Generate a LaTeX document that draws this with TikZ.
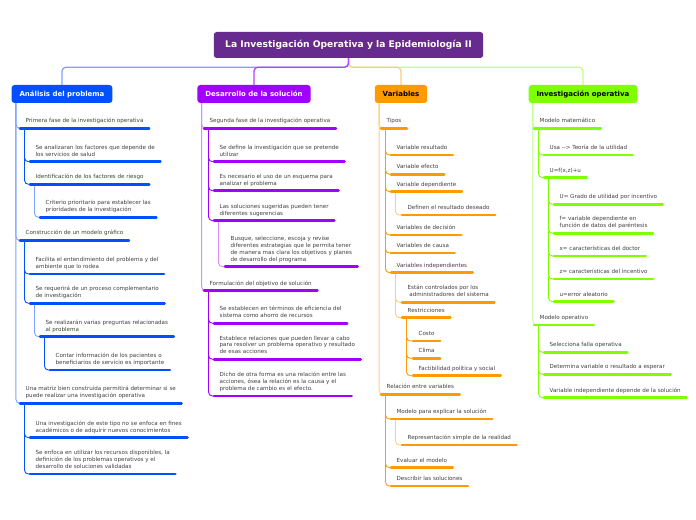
\documentclass[tikz,border=0pt]{standalone}
\usepackage{fontspec}
\setmainfont{DejaVu Sans}
\usetikzlibrary{backgrounds}
\definecolor{ctitle}{HTML}{672A8E}
\definecolor{cblue}{HTML}{0050FF}
\definecolor{cpur}{HTML}{A100FF}
\definecolor{corg}{HTML}{FF9A00}
\definecolor{clime}{HTML}{80FF00}
\definecolor{cbluel}{HTML}{7FA3FF}
\definecolor{cpurl}{HTML}{D48EFF}
\definecolor{corgl}{HTML}{FFCC80}
\definecolor{climel}{HTML}{C2FF88}
\definecolor{ctext}{HTML}{404040}
\tikzset{
  mtext/.style={font=\fontsize{5.6}{6.7}\selectfont, text=ctext, align=left, inner xsep=5.5pt, inner ysep=3.5pt},
  ul/.style={line width=2.6pt, line cap=round},
  conn/.style={line width=0.9pt, rounded corners=4pt},
  tconn/.style={line width=1.3pt, rounded corners=4pt},
  branch/.style={rounded corners=3pt, font=\fontsize{7}{8}\selectfont\bfseries, minimum height=18bp, inner xsep=8pt, inner ysep=0pt},
}
\newcommand\mm[5]{\node[mtext,anchor=south west] (#1) at (#2,#3) {#5\strut};
  \draw[ul,#4] (#1.south west) -- (#1.south east);}
\newcommand\cn[3]{\draw[conn,#3] ([xshift=4.5pt]#1.south west) |- (#2.south west);}
\begin{document}
\begin{tikzpicture}[x=1bp,y=-1bp]
\useasboundingbox (0,0) rectangle (696,520);
% title
\node[fill=ctitle, text=white, rounded corners=3pt, font=\fontsize{9.2}{11}\selectfont\bfseries, minimum height=26bp, inner xsep=11.5pt, inner ysep=0pt] (T) at (348.5,45) {La Investigación Operativa y la Epidemiología II};
% branches
\node[branch, fill=cblue, text=white] (AB) at (62,94) {Análisis del problema};
\node[branch, fill=cpur, text=white] (BB) at (254,94) {Desarrollo de la solución};
\node[branch, fill=corg, text=black] (CB) at (401,94) {Variables};
\node[branch, fill=clime, text=black] (DB) at (583,94) {Investigación operativa};
% blue
\mm{A1}{20}{128.3}{cblue}{Primera fase de la investigación operativa}
\mm{A11}{30}{161.7}{cblue}{Se analizaran los factores que depende de\\los servicios de salud}
\mm{A12}{30}{184.3}{cblue}{Identificación de los factores de riesgo}
\mm{A121}{40}{217.3}{cblue}{Criterio prioritario para establecer las\\prioridades de la investigación}
\mm{A2}{20}{240.5}{cblue}{Construcción de un modelo gráfico}
\mm{A21}{30}{274}{cblue}{Facilita el entendimiento del problema y del\\ambiente que lo rodea}
\mm{A22}{30}{303.3}{cblue}{Se requerirá de un proceso complementario\\de investigación}
\mm{A221}{40}{336.7}{cblue}{Se realizarán varias preguntas relacionadas\\al problema}
\mm{A2211}{50}{370}{cblue}{Contar información de los pacientes o\\beneficiarios de servicio es importante}
\mm{A3}{20}{403.3}{cblue}{Una matriz bien construida permitirá determinar si se\\puede realizar una investigación operativa}
\mm{A31}{30}{437.7}{cblue}{Una investigación de este tipo no se enfoca en fines\\académicos o de adquirir nuevos conocimientos}
\mm{A32}{30}{474}{cblue}{Se enfoca en utilizar los recursos disponibles, la\\definición de los problemas operativos y el\\desarrollo de soluciones validadas}
% purple
\mm{B1}{204}{128.3}{cpur}{Segunda fase de la investigación operativa}
\mm{B11}{214}{161.7}{cpur}{Se define la investigación que se pretende\\utilizar}
\mm{B12}{214}{190.7}{cpur}{Es necesario el uso de un esquema para\\analizar el problema}
\mm{B13}{214}{220.7}{cpur}{Las soluciones sugeridas pueden tener\\diferentes sugerencias}
\mm{B131}{225}{266.7}{cpur}{Busque, seleccione, escoja y revise\\diferentes estrategias que le permita tener\\de manera mas clara los objetivos y planes\\de desarrollo del programa}
\mm{B2}{204}{290.7}{cpur}{Formulación del objetivo de solución}
\mm{B21}{214}{323.3}{cpur}{Se establecen en términos de eficiencia del\\sistema como ahorro de recursos}
\mm{B22}{214}{359.3}{cpur}{Establece relaciones que pueden llevar a cabo\\para resolver un problema operativo y resultado\\de esas acciones}
\mm{B23}{214}{396}{cpur}{Dicho de otra forma es una relación entre las\\acciones, ósea la relación es la causa y el\\problema de cambio es el efecto.}
% orange
\mm{C1}{381}{128.3}{corg}{Tipos}
\mm{C11}{391}{155}{corg}{Variable resultado}
\mm{C12}{391}{174.3}{corg}{Variable efecto}
\mm{C13}{391}{191.7}{corg}{Variable dependiente}
\mm{C131}{402}{215}{corg}{Definen el resultado deseado}
\mm{C14}{391}{235}{corg}{Variables de decisión}
\mm{C15}{391}{253}{corg}{Variables de causa}
\mm{C16}{391}{272.7}{corg}{Variables independientes}
\mm{C161}{402}{302.3}{corg}{Están controlados por los\\\ administradores del sistema}
\mm{C162}{402}{317.7}{corg}{Restricciones}
\mm{C1621}{413}{341}{corg}{Costo}
\mm{C1622}{413}{358.3}{corg}{Clima}
\mm{C1623}{413}{375.7}{corg}{Factibilidad política y social}
\mm{C2}{381}{394.3}{corg}{Relación entre variables}
\mm{C21}{391}{419}{corg}{Modelo para explicar la solución}
\mm{C211}{402}{445}{corg}{Representación simple de la realidad}
\mm{C22}{391}{467.7}{corg}{Evaluar el modelo}
\mm{C23}{391}{486}{corg}{Describir las soluciones}
% lime
\mm{D1}{534}{128.3}{clime}{Modelo matemático}
\mm{D11}{544}{155}{clime}{Usa -{}-{}> Teoría de la utilidad}
\mm{D12}{544}{177.7}{clime}{U=f(x,z)+u}
\mm{D121}{554}{204.3}{clime}{U= Grado de utilidad por incentivo}
\mm{D122}{554}{233.3}{clime}{f= variable dependiente en\\función de datos del paréntesis}
\mm{D123}{554}{256}{clime}{x= características del doctor}
\mm{D124}{554}{279}{clime}{z= características del incentivo}
\mm{D125}{554}{301.7}{clime}{u=error aleatorio}
\mm{D2}{534}{325}{clime}{Modelo operativo}
\mm{D21}{544}{352.3}{clime}{Selecciona falla operativa}
\mm{D22}{544}{374.3}{clime}{Determina variable o resultado a esperar}
\mm{D23}{544}{397.7}{clime}{Variable independiente depende de la solución}
\begin{pgfonlayer}{background}
\fill[white] (0,0) rectangle (696,520);
\draw[tconn,climel] (T.south) -- ++(0,9) -| (DB.north);
\draw[tconn,corgl] (T.south) -- ++(0,9) -| (CB.north);
\draw[tconn,cbluel] (T.south) -- ++(0,9) -| (AB.north);
\draw[tconn,cpur!75] (T.south) -- ++(0,9) -| (BB.north);
\cn{AB}{A1}{cbluel}\cn{AB}{A2}{cbluel}\cn{AB}{A3}{cbluel}
\cn{A1}{A11}{cblue}\cn{A1}{A12}{cblue}\cn{A12}{A121}{cbluel}
\cn{A2}{A21}{cblue}\cn{A2}{A22}{cblue}\cn{A22}{A221}{cbluel}\cn{A221}{A2211}{cblue}
\cn{A3}{A31}{cblue}\cn{A3}{A32}{cblue}
\cn{BB}{B1}{cpurl}\cn{BB}{B2}{cpurl}
\cn{B1}{B11}{cpur}\cn{B1}{B12}{cpur}\cn{B1}{B13}{cpur}\cn{B13}{B131}{cpurl}
\cn{B2}{B21}{cpur}\cn{B2}{B22}{cpur}\cn{B2}{B23}{cpur}
\cn{CB}{C1}{corgl}\cn{CB}{C2}{corgl}
\cn{C1}{C11}{corg}\cn{C1}{C12}{corg}\cn{C1}{C13}{corg}\cn{C1}{C14}{corg}\cn{C1}{C15}{corg}\cn{C1}{C16}{corg}
\cn{C13}{C131}{corgl}\cn{C16}{C161}{corgl}\cn{C16}{C162}{corgl}
\cn{C162}{C1621}{corg}\cn{C162}{C1622}{corg}\cn{C162}{C1623}{corg}
\cn{C2}{C21}{corg}\cn{C2}{C22}{corg}\cn{C2}{C23}{corg}\cn{C21}{C211}{corgl}
\cn{DB}{D1}{climel}\cn{DB}{D2}{climel}
\cn{D1}{D11}{clime}\cn{D1}{D12}{clime}
\cn{D12}{D121}{clime}\cn{D12}{D122}{clime}\cn{D12}{D123}{clime}\cn{D12}{D124}{clime}\cn{D12}{D125}{clime}
\cn{D2}{D21}{clime}\cn{D2}{D22}{clime}\cn{D2}{D23}{clime}
\end{pgfonlayer}
\end{tikzpicture}
\end{document}
